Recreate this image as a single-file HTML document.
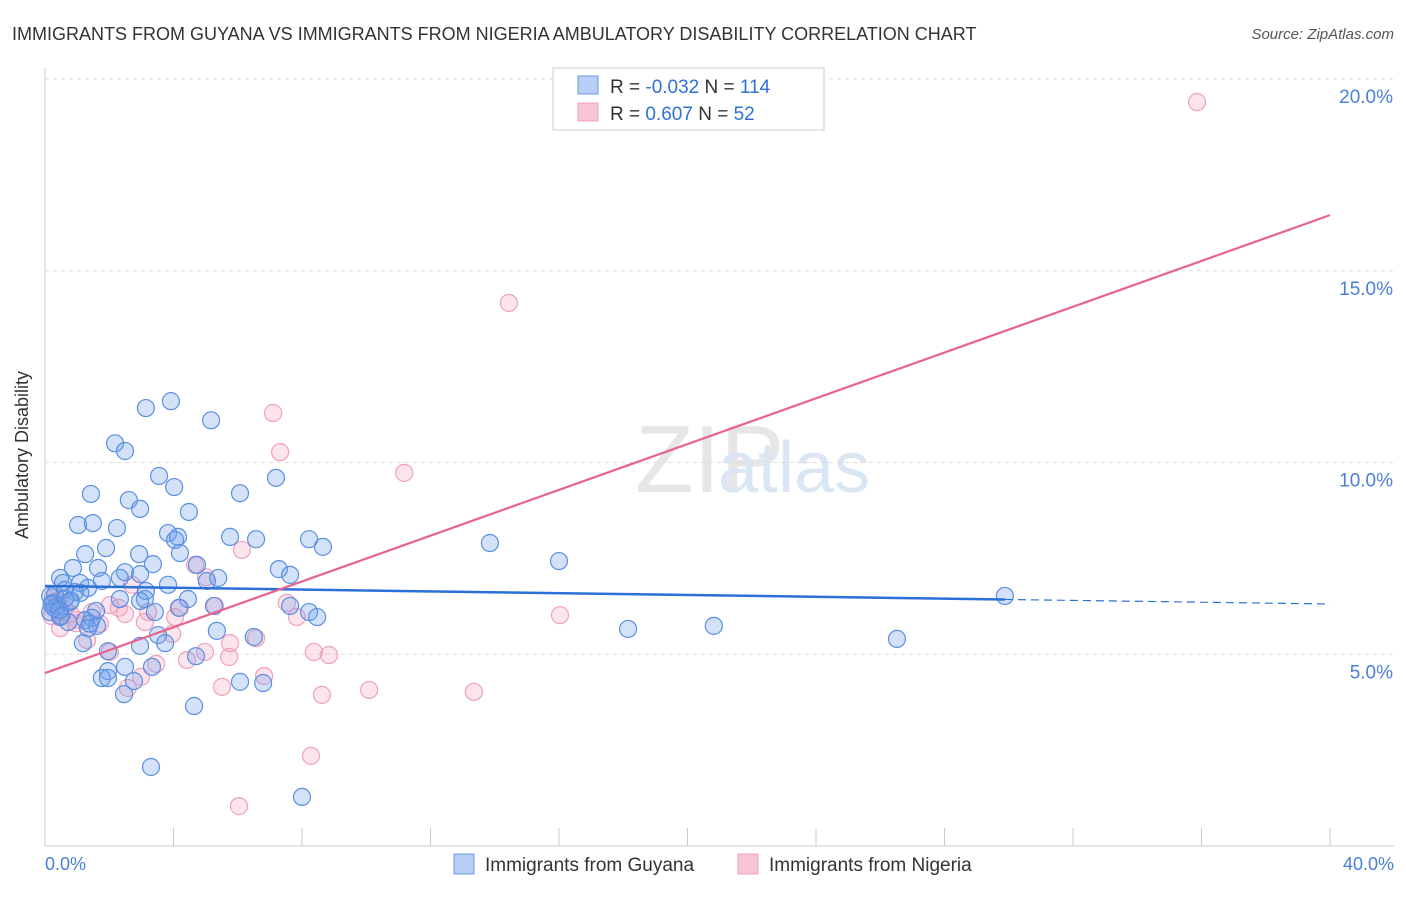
<!DOCTYPE html>
<html><head><meta charset="utf-8"><style>
body{margin:0;background:#fff;font-family:"Liberation Sans",sans-serif}
svg text{font-family:"Liberation Sans",sans-serif}
</style></head><body>
<svg id="c" width="1406" height="892">
<text x="12" y="40" font-size="18" fill="#333">IMMIGRANTS FROM GUYANA VS IMMIGRANTS FROM NIGERIA AMBULATORY DISABILITY CORRELATION CHART</text>
<text x="1394" y="39" font-size="15" fill="#555" font-style="italic" text-anchor="end">Source: ZipAtlas.com</text>
<text x="635" y="492" font-size="96" fill="#e6e6e6" font-family="Liberation Serif">ZIP</text>
<text x="718" y="492" font-size="72" fill="#dbe6f5">atlas</text>
<g id="grid"></g><g id="pts"></g><g id="lines"></g>
<text x="28" y="455" font-size="18" fill="#333" transform="rotate(-90 28 455)" text-anchor="middle">Ambulatory Disability</text>
<text x="45" y="870" font-size="18" fill="#4a7fd6">0.0%</text>
<text x="1394" y="870" font-size="18" fill="#4a7fd6" text-anchor="end">40.0%</text>
<g>
<rect x="553" y="68" width="271" height="62" fill="#fff" stroke="#ccc"/>
<rect x="578" y="76" width="20" height="18" fill="#b8d0f5" stroke="#6e9be0"/>
<rect x="578" y="103" width="20" height="18" fill="#f9c5d5" stroke="#f0a0bb"/>
<text x="610" y="93" font-size="19" fill="#333">R = <tspan fill="#2f6fd6">-0.032</tspan>   N = <tspan fill="#2f6fd6">114</tspan></text>
<text x="610" y="120" font-size="19" fill="#333">R =  <tspan fill="#2f6fd6"> 0.607</tspan>   N =  <tspan fill="#2f6fd6"> 52</tspan></text>
</g>
<g>
<rect x="454" y="854" width="20" height="20" fill="#b8d0f5" stroke="#6e9be0"/>
<text x="485" y="871" font-size="19" fill="#333">Immigrants from Guyana</text>
<rect x="738" y="854" width="20" height="20" fill="#f9c5d5" stroke="#f0a0bb"/>
<text x="769" y="871" font-size="19" fill="#333">Immigrants from Nigeria</text>
</g>
</svg>
<script>
const yTicks=[5,10,15,20];
const xTicks=[0,4,8,12,16,20,24,28,32,36,40];
const guyX=[3.92,3.14,5.17,2.18,2.49,3.55,7.19,4.02,1.43,6.07,2.61,2.96,4.48,1.03,1.49,2.24,3.83,5.76,6.57,8.22,4.05,4.14,13.85,8.65,1.9,1.25,2.93,4.2,16.0,3.36,4.73,7.28,1.65,0.87,2.49,2.96,7.63,0.47,2.33,5.39,5.04,1.77,0.56,1.09,3.83,1.34,0.62,3.14,0.93,29.88,2.33,3.11,4.45,2.96,0.25,0.78,0.4,7.63,5.26,4.17,1.59,3.42,8.22,8.47,0.16,0.47,1.46,1.25,1.62,1.34,0.72,5.35,18.15,20.82,3.52,6.5,3.74,2.96,1.18,26.52,1.96,4.7,2.49,3.33,1.96,1.77,1.96,2.77,6.07,6.79,2.46,4.64,3.3,8.0,0.31,0.16,0.62,0.3,0.5,0.2,1.1,0.8,1.4,0.45];
const guyY=[11.6,11.42,11.1,10.5,10.3,9.65,9.6,9.36,9.18,9.2,9.02,8.79,8.71,8.37,8.42,8.29,8.16,8.06,8.0,8.0,7.98,8.06,7.9,7.8,7.77,7.61,7.61,7.64,7.43,7.35,7.33,7.22,7.25,7.25,7.14,7.09,7.07,6.99,6.99,6.99,6.91,6.91,6.86,6.86,6.81,6.73,6.68,6.65,6.62,6.52,6.44,6.44,6.44,6.39,6.34,6.36,6.26,6.26,6.26,6.21,6.13,6.1,6.1,5.97,6.1,5.97,5.95,5.89,5.74,5.68,5.84,5.61,5.66,5.74,5.5,5.45,5.29,5.22,5.29,5.4,5.08,4.95,4.67,4.67,4.56,4.38,4.38,4.3,4.28,4.25,3.96,3.65,2.06,1.28,6.55,6.52,6.45,6.2,6.0,6.3,6.6,6.4,5.8,6.15];
const nigX=[35.86,14.44,7.1,7.32,11.18,6.13,4.67,5.01,7.53,5.29,4.2,16.03,7.84,3.21,2.3,2.49,1.46,2.02,0.56,0.25,0.96,0.47,1.71,4.05,3.11,3.96,6.57,5.76,1.31,2.02,4.98,4.42,3.46,5.73,8.37,8.84,6.82,2.99,2.58,5.51,10.09,13.35,8.62,8.28,6.04,2.71,0.3,0.2,0.6,1.0,0.4,0.8];
const nigY=[19.4,14.16,11.29,10.27,9.73,7.72,7.33,7.01,6.34,6.26,6.21,6.02,5.97,6.1,6.21,6.05,6.1,6.28,6.1,6.47,5.81,5.68,5.79,5.97,5.84,5.53,5.42,5.29,5.37,5.06,5.06,4.85,4.75,4.93,5.06,4.98,4.43,4.41,4.12,4.15,4.07,4.02,3.94,2.35,1.04,6.81,6.3,6.0,6.2,5.9,6.4,6.05];
const guyLine=[6.78,6.31], nigLine=[4.51,16.45];
const NS='http://www.w3.org/2000/svg';
const X=v=>45+v*32.125, Y=v=>846-v*38.35;
function mk(t,a,p){const e=document.createElementNS(NS,t);for(const k in a)e.setAttribute(k,a[k]);p.appendChild(e);return e;}
const g=document.getElementById('grid');
mk('line',{x1:45,y1:68,x2:45,y2:846,stroke:'#ccc'},g);
mk('line',{x1:45,y1:846,x2:1394,y2:846,stroke:'#ccc'},g);
yTicks.forEach(v=>{const l=mk('line',{x1:45,y1:Y(v),x2:1394,y2:Y(v),stroke:'#ddd','stroke-dasharray':'4 4'},g);

const t=mk('text',{x:1393,y:Y(v)+24,'font-size':19,fill:'#4a7fd6','text-anchor':'end'},g);t.textContent=v.toFixed(1)+'%';
});
xTicks.forEach(v=>{const l=mk('line',{x1:X(v),y1:828,x2:X(v),y2:846,stroke:'#ccc'},g);
});
const p=document.getElementById('pts');
nigX.forEach((v,i)=>{const c=mk('circle',{cx:X(v),cy:Y(nigY[i]),r:8.5,fill:'rgba(245,165,195,0.3)',stroke:'#f0a0bb','stroke-width':1.2},p);
});
guyX.forEach((v,i)=>{const c=mk('circle',{cx:X(v),cy:Y(guyY[i]),r:8.5,fill:'rgba(110,160,235,0.3)',stroke:'#5b8fe0','stroke-width':1.2},p);
});
const L=document.getElementById('lines');
const gy=t=>guyLine[0]+(guyLine[1]-guyLine[0])*t/40;
let e=mk('line',{x1:X(0),y1:Y(gy(0)),x2:X(29.88),y2:Y(gy(29.88)),stroke:'#2b6fd8','stroke-width':2.5},L);

e=mk('line',{x1:X(29.88),y1:Y(gy(29.88)),x2:X(40),y2:Y(gy(40)),stroke:'#2b6fd8','stroke-width':1.2,'stroke-dasharray':'8 5'},L);

e=mk('line',{x1:X(0),y1:Y(nigLine[0]),x2:X(40),y2:Y(nigLine[1]),stroke:'#e8648f','stroke-width':2.2},L);

</script>
</body></html>
